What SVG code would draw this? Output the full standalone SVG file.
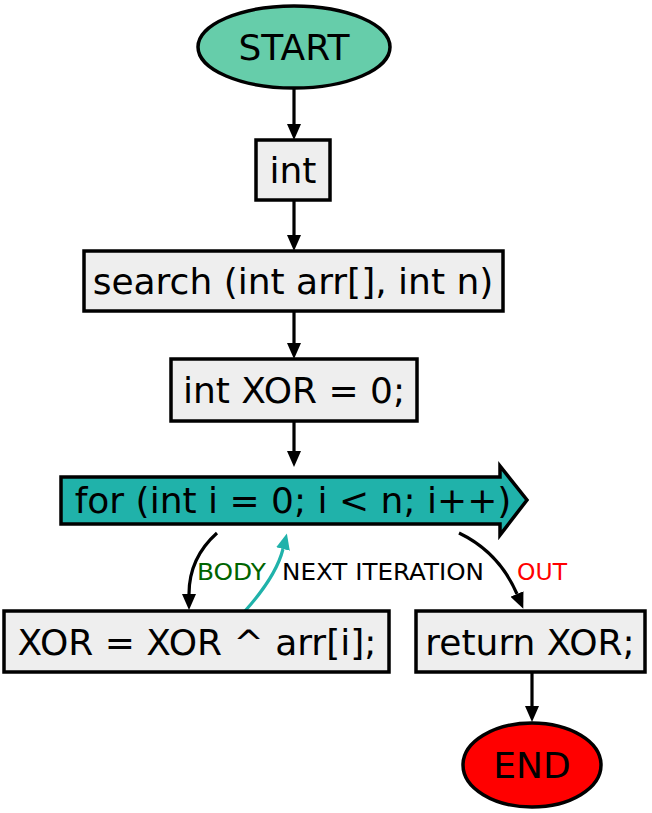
<svg xmlns="http://www.w3.org/2000/svg" width="652" height="813" viewBox="0 0 652 813">
<style>
.sh{stroke:#000;stroke-width:3.5}
.box{fill:#eeeeee;stroke:#000;stroke-width:3.5}
.t{font-family:"DejaVu Sans",Verdana,sans-serif;font-size:36px;fill:#000;text-anchor:middle}
.lb{font-family:"DejaVu Sans",Verdana,sans-serif;font-size:23px}
.e{fill:none;stroke:#000;stroke-width:3.2}
</style>
<defs>
<marker id="ah" viewBox="0 0 16 14" refX="0" refY="7" markerWidth="16" markerHeight="14" markerUnits="userSpaceOnUse" orient="auto">
<path d="M0,0 L16,7 L0,14 Z" fill="#000"/>
</marker>
<marker id="aht" viewBox="0 0 16 14" refX="0" refY="7" markerWidth="16" markerHeight="14" markerUnits="userSpaceOnUse" orient="auto">
<path d="M0,0 L16,7 L0,14 Z" fill="#20b2aa"/>
</marker>
</defs>
<g id="connectors">
<path class="e" d="M294,89 V124" marker-end="url(#ah)"/>
<path class="e" d="M294,200 V235" marker-end="url(#ah)"/>
<path class="e" d="M294,312 V343" marker-end="url(#ah)"/>
<path class="e" d="M294,422 V451" marker-end="url(#ah)"/>
<path class="e" d="M217,533 C198,550 189,571 189,594" marker-end="url(#ah)"/>
<path class="e" style="stroke:#20b2aa" d="M245,611 C262,592 278,569 283,549" marker-end="url(#aht)"/>
<path class="e" d="M459,533 C486,546 505,566 517,594" marker-end="url(#ah)"/>
<path class="e" d="M532,672 V706" marker-end="url(#ah)"/>
<text class="lb" x="197" y="580" fill="#006400" textLength="69" lengthAdjust="spacingAndGlyphs">BODY</text>
<text class="lb" x="282" y="580" fill="#000" textLength="202" lengthAdjust="spacingAndGlyphs">NEXT ITERATION</text>
<text class="lb" x="517" y="580" fill="#ff0000" textLength="50" lengthAdjust="spacingAndGlyphs">OUT</text>
</g>
<g id="start">
<ellipse class="sh" cx="294" cy="47" rx="96" ry="41" fill="#66cdaa"/>
<text class="t" x="294" y="60">START</text>
</g>
<g id="int">
<rect class="box" x="256" y="140" width="74" height="60"/>
<text class="t" x="293" y="183">int</text>
</g>
<g id="search">
<rect class="box" x="84" y="251" width="419" height="60"/>
<text class="t" x="293" y="294">search (int arr[], int n)</text>
</g>
<g id="xorinit">
<rect class="box" x="171" y="359" width="246" height="62"/>
<text class="t" x="294" y="403">int XOR = 0;</text>
</g>
<g id="for">
<path class="sh" d="M61,477 H500 V466 L527,500 L500,535 V524 H61 Z" fill="#20b2aa"/>
<text class="t" x="293" y="513">for (int i = 0; i &lt; n; i++)</text>
</g>
<g id="body">
<rect class="box" x="4" y="611" width="385" height="61"/>
<text class="t" x="197" y="655">XOR = XOR ^ arr[i];</text>
</g>
<g id="ret">
<rect class="box" x="416" y="611" width="229" height="61"/>
<text class="t" x="530" y="655">return XOR;</text>
</g>
<g id="end">
<ellipse class="sh" cx="532" cy="765" rx="69" ry="42" fill="#ff0000"/>
<text class="t" x="532" y="778">END</text>
</g>
</svg>
